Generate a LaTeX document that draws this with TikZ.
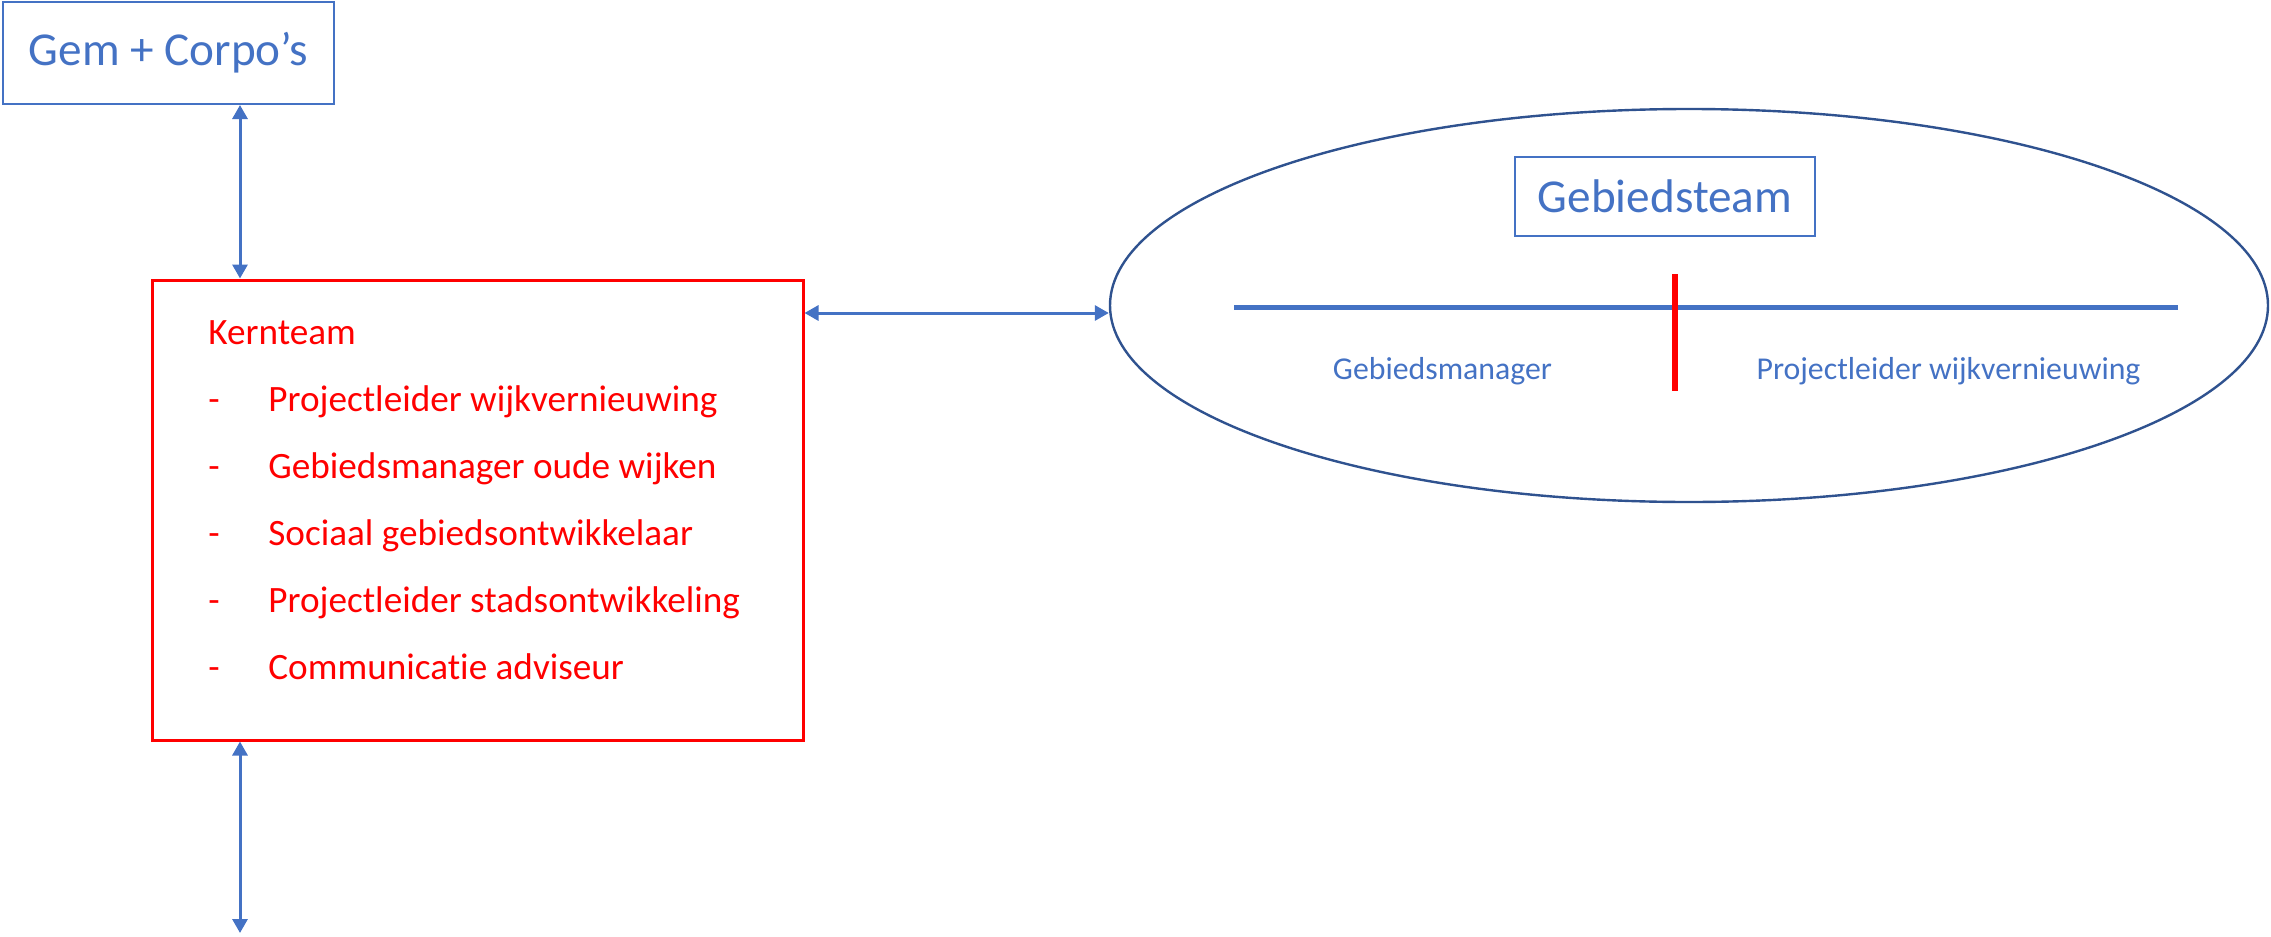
\documentclass[tikz,border=0pt]{standalone}
\usepackage{fontspec}
\setmainfont{Carlito}[Ligatures=NoCommon]
\usetikzlibrary{arrows.meta,shapes.geometric}
\definecolor{offblue}{HTML}{4472C4}
\definecolor{darkblue}{HTML}{2F528F}
\newcommand{\grootfont}{\fontsize{23.6pt}{28pt}\selectfont}
\newcommand{\middenfont}{\fontsize{18.6pt}{22pt}\selectfont}
\newcommand{\kleinfont}{\fontsize{15.9pt}{19pt}\selectfont}
\tikzstyle{blokje}=[draw=offblue,line width=1pt,inner sep=0pt,text=offblue,font=\grootfont]
\tikzstyle{lijst}=[anchor=base west,text=red,inner sep=0pt,font=\middenfont]
\tikzstyle{rol}=[anchor=base,text=offblue,inner sep=0pt,font=\kleinfont]
\tikzstyle{tweezijdig}=[draw=offblue,line width=1.5pt,{Triangle[width=7.5pt,length=7pt]}-{Triangle[width=7.5pt,length=7pt]}]

\begin{document}
\begin{tikzpicture}[x=0.5pt,y=-0.5pt]
	\useasboundingbox (0,0) rectangle (2271,937);
	%boxes
	\node[blokje, minimum width=165.5pt, minimum height=51pt] (gem) at (168.5,53) {Gem + Corpo’s};
	\node[draw=red, line width=1.5pt, minimum width=325.25pt, minimum height=230pt] (kern) at (477.75,510) {};
	\node[ellipse, draw=darkblue, line width=1.2pt, inner sep=0pt, minimum width=579pt, minimum height=196.5pt] (gt) at (1689,305.5) {};
	\node[blokje, minimum width=150pt, minimum height=39.5pt] (gtkop) at (1665,196.5) {Gebiedsteam};
	%kernteam
	\node[lijst] (kt0) at (208,344) {Kernteam};
	\foreach \tekst [count=\i] in {Projectleider wijkvernieuwing, Gebiedsmanager oude wijken, Sociaal gebiedsontwikkelaar, Projectleider stadsontwikkeling, Communicatie adviseur}
	{
		\node[lijst] (streep\i) at (208,344+67*\i) {-};
		\node[lijst] (kt\i) at (268,344+67*\i) {\tekst};
	}
	%gebiedsteam
	\draw[offblue, line width=2.5pt] (1234,307) -- (2178,307);
	\draw[red, line width=3pt] (1675,274) -- (1675,391);
	\node[rol] (gm) at (1442.5,379) {Gebiedsmanager};
	\node[rol] (plw) at (1948.5,379) {Projectleider wijkvernieuwing};
	%arrows
	\coordinate (pijlx) at (240,0);
	\coordinate (pijly) at (0,313);
	\coordinate (onder) at (240,933);
	\draw[tweezijdig] (gem.south -| pijlx) -- (kern.north -| pijlx);
	\draw[tweezijdig] (kern.south -| pijlx) -- (onder);
	\draw[tweezijdig] (kern.east |- pijly) -- (gt.west |- pijly);
\end{tikzpicture}
\end{document}
